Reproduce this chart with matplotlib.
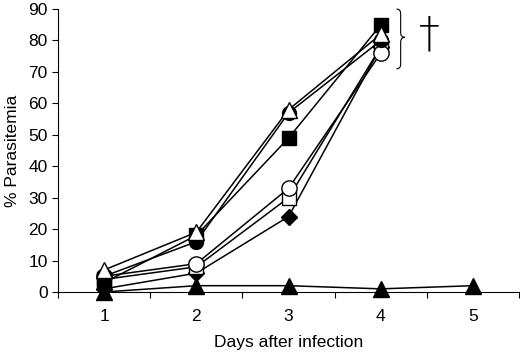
import numpy as np
import matplotlib
matplotlib.use("Agg")
import matplotlib.pyplot as plt
from matplotlib.path import Path
from matplotlib.patches import PathPatch

plt.rcParams['font.family'] = ['Liberation Sans', 'DejaVu Sans']

days = [1, 2, 3, 4]
days_ctrl = [1, 2, 3, 4, 5]

# % parasitemia per group
open_tri = [7, 19, 58, 82]
filled_circle = [5, 16, 57, 80]
filled_square = [3, 18, 49, 85]
open_circle = [5, 9, 33, 76]
open_square = [4, 8, 30, 78]
filled_diamond = [1, 6, 24, 78]
filled_tri = [0, 2, 2, 1, 2]

series = [
    (days, filled_diamond, 'D', 'black', 8),
    (days, open_square, 's', 'white', 10),
    (days, open_circle, 'o', 'white', 11),
    (days, filled_square, 's', 'black', 10),
    (days, filled_circle, 'o', 'black', 10),
    (days, open_tri, '^', 'white', 11),
    (days_ctrl, filled_tri, '^', 'black', 11),
]

fig = plt.figure(figsize=(5.2, 3.55), dpi=100)
ax = fig.add_axes([0.1115, 0.1775, 0.887, 0.797])

for x, y, m, fc, ms in series:
    ax.plot(x, y, color='black', lw=1.1, marker=m, markersize=ms,
            markerfacecolor=fc, markeredgecolor='black', markeredgewidth=1.0,
            clip_on=False)

ax.set_xlim(0.5, 5.5)
ax.set_ylim(0, 90)
ax.set_yticks(np.arange(0, 91, 10))
ax.set_xticks([1, 2, 3, 4, 5])
ax.set_xticks(np.arange(0.5, 5.6, 1), minor=True)
ax.tick_params(axis='x', which='major', length=0, labelsize=12.5, pad=12)
ax.tick_params(axis='x', which='minor', length=4, width=0.8, direction='out')
ax.tick_params(axis='y', length=4, width=0.8, labelsize=12.5, direction='out')
ax.spines['top'].set_visible(False)
ax.spines['right'].set_visible(False)
ax.set_xlabel('Days after infection', fontsize=12.5, labelpad=8)
ax.set_ylabel('% Parasitemia', fontsize=12.5, labelpad=6)

# curly brace next to the day-4 cluster
bx0, bx1, ytop, ymid, ybot = 4.17, 4.26, 90, 81, 71
xm = (bx0 + bx1) / 2
verts = [(bx0, ytop), (xm, ytop), (xm, ytop - 1.5), (xm, ytop - 1.5),
         (xm, ymid + 1.5), (xm, ymid + 1.5), (xm, ymid), (bx1, ymid),
         (xm, ymid), (xm, ymid - 1.5), (xm, ymid - 1.5),
         (xm, ybot + 1.5), (xm, ybot + 1.5), (xm, ybot), (bx0, ybot)]
codes = [Path.MOVETO, Path.CURVE3, Path.CURVE3, Path.LINETO,
         Path.LINETO, Path.LINETO, Path.CURVE3, Path.CURVE3,
         Path.CURVE3, Path.CURVE3, Path.LINETO,
         Path.LINETO, Path.LINETO, Path.CURVE3, Path.CURVE3]
ax.add_patch(PathPatch(Path(verts, codes), fill=False, lw=0.8, clip_on=False))
ax.text(4.52, 82, '†', fontsize=30, ha='center', va='center',
        family=['DejaVu Sans'], fontweight='light')

fig.savefig('out.png', dpi=100)
